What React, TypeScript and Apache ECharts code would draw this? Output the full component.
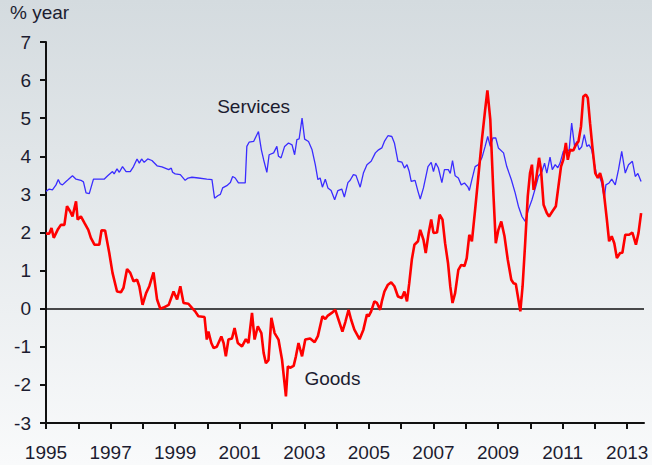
import React, { useEffect, useRef } from "react";
import * as echarts from "echarts";

// Goods inflation (% year), [decimal year, value]
const goodsYears = [1995.0,1995.1,1995.17,1995.24,1995.36,1995.46,1995.57,1995.65,1995.75,1995.82,1995.93,1995.98,1996.08,1996.19,1996.31,1996.39,1996.5,1996.65,1996.72,1996.83,1996.96,1997.06,1997.2,1997.32,1997.4,1997.51,1997.61,1997.71,1997.82,1997.89,1997.99,1998.1,1998.2,1998.33,1998.44,1998.54,1998.64,1998.8,1998.95,1999.06,1999.16,1999.26,1999.41,1999.52,1999.62,1999.72,1999.91,1999.98,2000.03,2000.12,2000.19,2000.29,2000.43,2000.5,2000.57,2000.65,2000.76,2000.84,2000.94,2001.07,2001.19,2001.27,2001.38,2001.46,2001.56,2001.67,2001.74,2001.81,2001.89,2001.98,2002.08,2002.2,2002.31,2002.43,2002.49,2002.56,2002.67,2002.74,2002.82,2002.93,2003.03,2003.18,2003.32,2003.42,2003.56,2003.65,2003.73,2003.85,2003.96,2004.06,2004.18,2004.27,2004.37,2004.45,2004.55,2004.71,2004.83,2004.94,2004.99,2005.07,2005.17,2005.25,2005.35,2005.4,2005.48,2005.59,2005.69,2005.79,2005.9,2006.02,2006.1,2006.18,2006.25,2006.33,2006.41,2006.52,2006.59,2006.69,2006.76,2006.85,2006.93,2007.0,2007.11,2007.19,2007.28,2007.36,2007.45,2007.52,2007.59,2007.67,2007.77,2007.86,2007.96,2008.03,2008.11,2008.19,2008.29,2008.39,2008.5,2008.6,2008.67,2008.76,2008.86,2008.93,2009.01,2009.1,2009.2,2009.3,2009.41,2009.48,2009.55,2009.63,2009.69,2009.76,2009.84,2009.92,2009.99,2010.05,2010.1,2010.17,2010.27,2010.33,2010.41,2010.51,2010.58,2010.68,2010.79,2010.87,2010.95,2011.02,2011.1,2011.16,2011.23,2011.33,2011.41,2011.49,2011.57,2011.64,2011.72,2011.78,2011.85,2011.92,2012.01,2012.09,2012.16,2012.23,2012.29,2012.37,2012.44,2012.52,2012.6,2012.68,2012.78,2012.85,2012.94,2013.06,2013.16,2013.27,2013.35,2013.43];
const goodsValues = [1.97,1.97,2.12,1.86,2.07,2.2,2.2,2.69,2.55,2.42,2.82,2.34,2.42,2.25,2.07,1.86,1.68,1.68,2.06,2.05,1.46,0.94,0.45,0.43,0.55,1.04,0.94,0.72,0.76,0.59,0.1,0.41,0.59,0.95,0.24,0.0,0.03,0.1,0.45,0.24,0.59,0.15,0.13,0.02,-0.07,-0.2,-0.22,-0.81,-0.6,-0.9,-1.03,-1.0,-0.73,-0.9,-1.25,-0.81,-0.78,-0.51,-0.9,-0.99,-0.8,-0.9,-0.11,-0.81,-0.46,-0.64,-1.16,-1.43,-1.35,-0.24,-0.64,-0.81,-1.34,-2.3,-1.51,-1.55,-1.5,-1.25,-0.9,-1.25,-0.81,-0.78,-0.88,-0.72,-0.2,-0.27,-0.18,-0.11,-0.03,-0.29,-0.6,-0.35,-0.03,-0.29,-0.55,-0.8,-0.55,-0.15,-0.2,-0.07,0.19,0.15,-0.03,0.19,0.45,0.63,0.69,0.59,0.32,0.28,0.45,0.19,0.67,1.29,1.68,1.77,2.07,1.81,1.46,1.99,2.34,1.99,2.0,2.47,2.34,1.72,1.2,0.59,0.15,0.41,1.02,1.15,1.12,1.33,1.94,1.77,2.6,3.47,4.44,5.22,5.73,4.96,2.95,1.72,2.07,2.29,1.9,1.29,0.76,0.67,0.65,0.24,-0.07,0.59,1.72,2.95,3.56,3.78,3.12,3.34,3.96,3.65,2.73,2.51,2.42,2.55,2.69,3.21,3.73,3.91,4.35,3.91,4.17,4.15,4.3,4.39,4.79,5.57,5.62,5.53,4.87,4.26,3.56,3.43,3.56,3.34,2.95,2.34,1.77,1.9,1.72,1.33,1.46,1.47,1.94,1.94,2.0,1.68,1.99,2.51];

// Services inflation (% year), [decimal year, value]
const servicesYears = [1995.0,1995.1,1995.2,1995.31,1995.38,1995.44,1995.51,1995.62,1995.69,1995.82,1995.93,1996.08,1996.16,1996.24,1996.34,1996.47,1996.6,1996.8,1996.91,1997.06,1997.11,1997.2,1997.27,1997.37,1997.48,1997.61,1997.71,1997.82,1997.89,1997.96,1998.04,1998.15,1998.28,1998.44,1998.59,1998.8,1998.88,1998.92,1999.0,1999.16,1999.31,1999.4,1999.52,1999.72,1999.98,2000.14,2000.22,2000.33,2000.4,2000.47,2000.6,2000.71,2000.78,2000.86,2000.96,2001.17,2001.22,2001.29,2001.43,2001.58,2001.67,2001.74,2001.84,2001.91,2002.05,2002.15,2002.2,2002.28,2002.39,2002.51,2002.62,2002.7,2002.77,2002.84,2002.93,2003.01,2003.13,2003.24,2003.34,2003.42,2003.49,2003.56,2003.65,2003.73,2003.83,2003.94,2004.04,2004.16,2004.24,2004.35,2004.42,2004.52,2004.6,2004.73,2004.83,2004.94,2005.07,2005.2,2005.3,2005.4,2005.48,2005.59,2005.71,2005.79,2005.9,2006.02,2006.1,2006.18,2006.25,2006.31,2006.43,2006.52,2006.59,2006.69,2006.83,2006.93,2007.0,2007.07,2007.15,2007.26,2007.34,2007.46,2007.52,2007.59,2007.67,2007.77,2007.86,2007.96,2008.07,2008.11,2008.19,2008.29,2008.39,2008.5,2008.6,2008.68,2008.76,2008.84,2008.93,2009.01,2009.17,2009.27,2009.41,2009.53,2009.63,2009.74,2009.84,2009.94,2010.05,2010.17,2010.25,2010.36,2010.44,2010.51,2010.61,2010.68,2010.77,2010.85,2010.92,2011.02,2011.13,2011.2,2011.28,2011.37,2011.44,2011.51,2011.59,2011.67,2011.75,2011.82,2011.9,2011.98,2012.06,2012.16,2012.21,2012.29,2012.34,2012.44,2012.52,2012.63,2012.73,2012.83,2012.94,2013.04,2013.16,2013.25,2013.33,2013.43];
const servicesValues = [3.08,3.14,3.12,3.25,3.39,3.28,3.25,3.34,3.39,3.49,3.4,3.37,3.33,3.04,3.02,3.4,3.4,3.4,3.49,3.6,3.54,3.67,3.58,3.73,3.6,3.6,3.73,3.93,3.82,3.93,3.84,3.93,3.89,3.75,3.72,3.65,3.69,3.58,3.54,3.52,3.37,3.43,3.45,3.43,3.4,3.39,2.9,2.97,3.0,3.17,3.23,3.31,3.47,3.43,3.3,3.3,4.26,4.37,4.39,4.65,4.17,3.91,3.58,4.04,4.09,4.26,4.0,3.96,4.26,4.35,4.3,4.04,4.44,4.46,5.0,4.45,4.39,4.17,3.78,3.39,3.43,3.19,3.4,3.17,3.1,2.86,3.1,3.14,2.93,3.31,3.37,3.52,3.5,3.19,3.56,3.78,3.87,4.09,4.17,4.22,4.39,4.54,4.52,4.35,3.87,3.85,3.69,3.78,3.6,3.34,3.37,3.08,2.88,3.17,3.73,3.84,3.6,3.82,3.7,3.31,3.65,3.65,3.55,3.89,3.49,3.43,3.25,3.3,3.19,3.1,3.39,3.73,3.78,3.96,4.26,4.52,4.26,4.48,4.48,4.22,4.09,3.73,3.39,3.04,2.69,2.42,2.29,2.6,2.86,3.21,3.47,3.6,3.82,3.56,3.98,3.65,3.78,3.7,3.82,4.13,4.17,4.15,4.87,4.26,4.39,4.17,4.25,4.57,4.26,4.3,4.17,3.82,3.47,3.43,3.3,2.9,3.25,3.3,3.4,3.25,3.65,4.13,3.56,3.78,3.87,3.47,3.55,3.34];

const tickYears = [1995,1996,1997,1998,1999,2000,2001,2002,2003,2004,2005,2006,2007,2008,2009,2010,2011,2012,2013];
const labelYears = [1995,1997,1999,2001,2003,2005,2007,2009,2011,2013];

const TEXT = "#1c1c30";
const FONT = "'Liberation Sans', Arial, sans-serif";

export default function App() {
  const ref = useRef<HTMLDivElement>(null);
  useEffect(() => {
    if (!ref.current) return;
    const chart = echarts.init(ref.current, undefined, { renderer: "svg" });
    const goods = goodsYears.map((x, i) => [x, goodsValues[i]]);
    const services = servicesYears.map((x, i) => [x, servicesValues[i]]);
    chart.setOption({
      animation: false,
      backgroundColor: new echarts.graphic.LinearGradient(0, 0, 0, 1, [
        { offset: 0, color: "#d4dbdf" },
        { offset: 1, color: "#f9fafb" },
      ]),
      textStyle: { fontFamily: FONT },
      grid: { left: 46, right: 8, top: 42, bottom: 42, containLabel: false },
      xAxis: {
        type: "value",
        min: 1995,
        max: 2013.52,
        axisLine: { show: true, onZero: false, lineStyle: { color: "#111", width: 2 } },
        axisTick: { show: true, length: 6, customValues: tickYears, lineStyle: { color: "#111", width: 2 } },
        axisLabel: {
          customValues: labelYears,
          color: TEXT,
          fontSize: 19,
          fontFamily: FONT,
          margin: 20,
          formatter: (v: number) => String(v),
        },
        splitLine: { show: false },
      },
      yAxis: {
        type: "value",
        min: -3,
        max: 7,
        interval: 1,
        axisLine: { show: true, onZero: false, lineStyle: { color: "#111", width: 2 } },
        axisTick: { show: true, length: 6, lineStyle: { color: "#111", width: 2 } },
        axisLabel: { color: TEXT, fontSize: 19, fontFamily: FONT, margin: 15 },
        splitLine: { show: false },
      },
      graphic: [
        { type: "text", left: 10, top: 3, style: { text: "% year", fill: TEXT, font: `19px ${FONT}` } },
      ],
      series: [
        {
          name: "Services",
          type: "line",
          data: services,
          symbol: "none",
          lineStyle: { color: "#3a2cff", width: 1.3 },
          z: 3,
          markPoint: {
            symbol: "circle",
            symbolSize: 0,
            label: { show: true, formatter: "Services", color: TEXT, fontSize: 19, fontFamily: FONT },
            data: [{ coord: [2001.43, 5.3] }],
          },
        },
        {
          name: "Goods",
          type: "line",
          data: goods,
          symbol: "none",
          lineStyle: { color: "#ff0000", width: 2.6 },
          z: 4,
          markLine: {
            silent: true,
            symbol: "none",
            label: { show: false },
            lineStyle: { color: "#111", width: 1.6, type: "solid" },
            data: [{ yAxis: 0 }],
            z: 2,
          },
          markPoint: {
            symbol: "circle",
            symbolSize: 0,
            label: { show: true, formatter: "Goods", color: TEXT, fontSize: 19, fontFamily: FONT },
            data: [{ coord: [2003.87, -1.83] }],
          },
        },
      ],
    });
    return () => chart.dispose();
  }, []);
  return (
    <div
      ref={ref}
      style={{ position: "absolute", left: 0, top: 0, width: 652, height: 465 }}
    />
  );
}
